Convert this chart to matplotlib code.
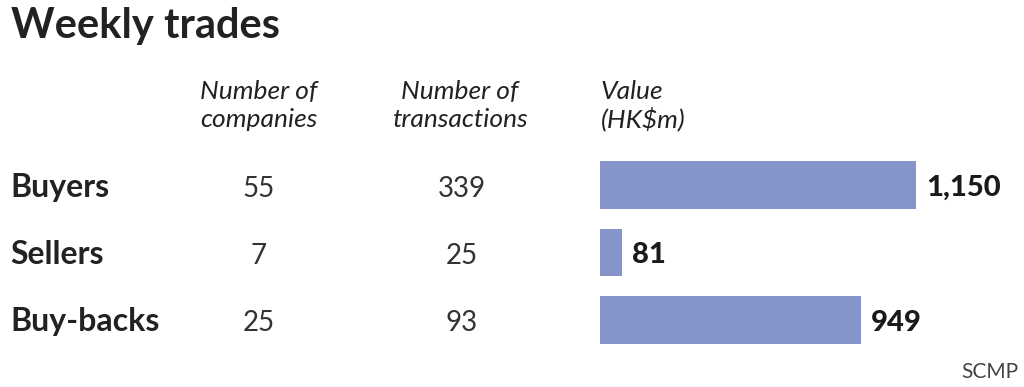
import matplotlib.pyplot as plt

# data
groups = ['Buyers', 'Sellers', 'Buy-backs']
companies = [55, 7, 25]
transactions = [339, 25, 93]
value_hkm = [1150, 81, 949]

W, H = 1024, 387
bar_color = '#8595ca'
dark = '#222222'
plt.rcParams['font.family'] = ['Lato', 'DejaVu Sans']

fig = plt.figure(figsize=(W / 100, H / 100), dpi=100)

def px(x, y):
    return x / W, 1 - y / H

# title
fig.text(*px(11, 38), 'Weekly trades', fontsize=30, fontweight='bold',
         color=dark, va='baseline', ha='left')

# column headers
for cx, lines in [(259, ['Number of', 'companies']),
                  (460, ['Number of', 'transactions'])]:
    for i, s in enumerate(lines):
        fig.text(*px(cx, 99 + 28 * i), s, fontsize=19, style='italic',
                 fontweight='normal', color=dark, ha='center', va='baseline')
for i, s in enumerate(['Value', '(HK$m)']):
    fig.text(*px(601, 99 + 28 * i), s, fontsize=19, style='italic',
             fontweight='normal', color=dark, ha='left', va='baseline')

# bars
ax = fig.add_axes([600 / W, (H - 344) / H, 316 / W, 183 / H])
rows = list(range(len(groups)))
ax.barh(rows, value_hkm, height=0.71, color=bar_color)
ax.set_xlim(0, 1150)
ax.set_ylim(2.355, -0.355)
ax.axis('off')
for r, v in zip(rows, value_hkm):
    ax.annotate(f'{v:,}', (v, r), xytext=(7, -2), textcoords='offset points',
                fontsize=21, fontweight='black', color='#1a1a1a',
                va='center', ha='left', annotation_clip=False)

# table rows
for r, (g, c, t) in enumerate(zip(groups, companies, transactions)):
    base = 197 + 67 * r
    fig.text(*px(10, base), g, fontsize=23, fontweight='bold', color=dark,
             ha='left', va='baseline')
    fig.text(*px(259, base), str(c), fontsize=20, color='#333333',
             ha='center', va='baseline')
    fig.text(*px(462, base), str(t), fontsize=20, color='#333333',
             ha='center', va='baseline')

fig.text(*px(1018, 378), 'SCMP', fontsize=15, color='#444444',
         ha='right', va='baseline')

fig.savefig('out.png', dpi=100, facecolor='white')
